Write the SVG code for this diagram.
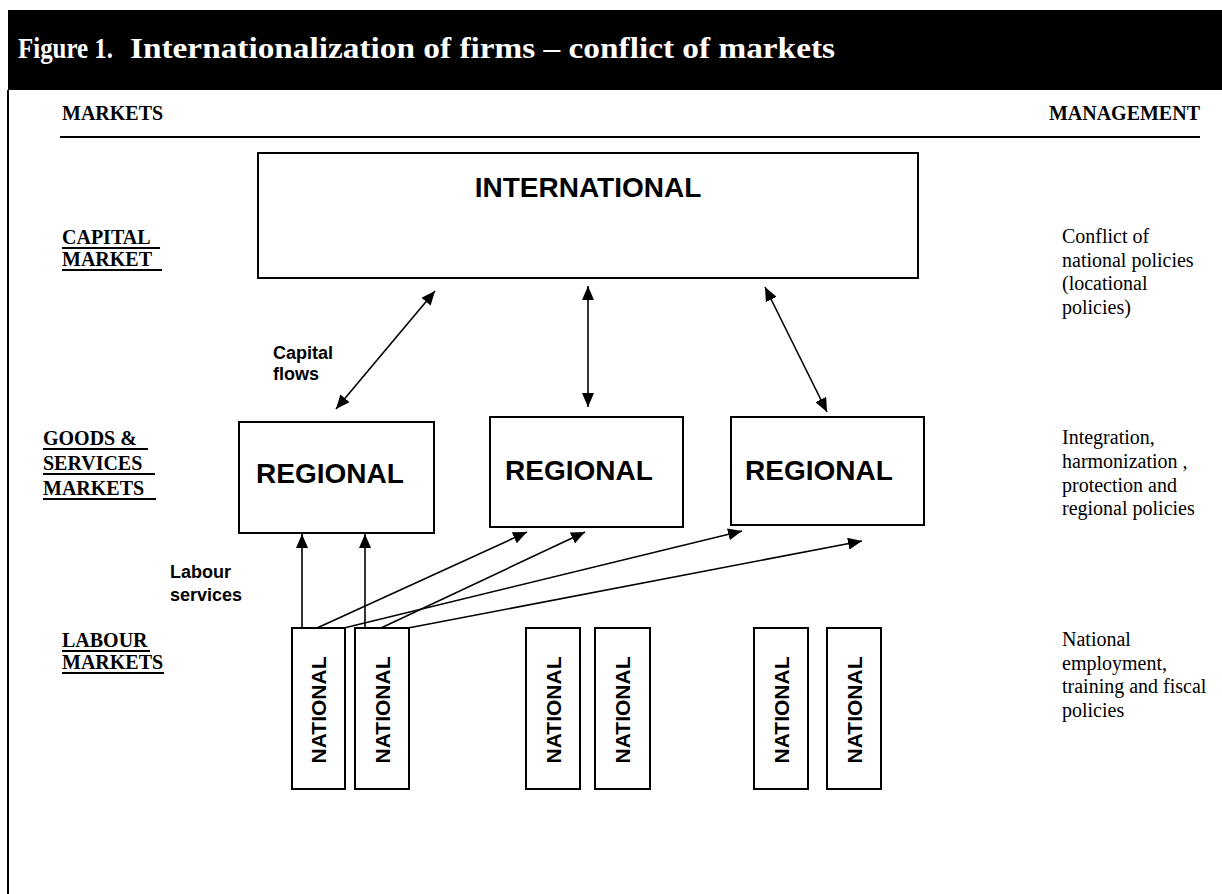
<svg xmlns="http://www.w3.org/2000/svg" width="1222" height="894" viewBox="0 0 1222 894">
<defs>
<marker id="ah" viewBox="0 0 14 12" refX="14" refY="6" markerWidth="14" markerHeight="12" orient="auto-start-reverse" markerUnits="userSpaceOnUse">
<path d="M0,0 L14,6 L0,12 z" fill="#000"/>
</marker>
<style>
.box{fill:#fff;stroke:#000;stroke-width:2}
.ser{font-family:"Liberation Serif","Times New Roman",serif}
.hdr{font-family:"Liberation Serif","Times New Roman",serif;font-weight:bold;font-size:20px;fill:#000}
.pol{font-family:"Liberation Serif","Times New Roman",serif;font-size:20px;fill:#000}
.big{font-family:"Liberation Sans",Arial,sans-serif;font-weight:bold;font-size:28px;fill:#000}
.nat{font-family:"Liberation Sans",Arial,sans-serif;font-weight:bold;font-size:21px;fill:#000}
.lbl{font-family:"Liberation Sans",Arial,sans-serif;font-weight:bold;font-size:18px;fill:#000}
.ul{stroke:#000;stroke-width:2}
.con line{stroke:#000;stroke-width:1.6;fill:none}
</style>
</defs>
<rect width="1222" height="894" fill="#fff"/>
<!-- header band -->
<rect x="8" y="10" width="1214" height="80" fill="#000"/>
<text class="ser" x="18" y="58" font-size="29" font-weight="bold" fill="#fff" textLength="95" lengthAdjust="spacingAndGlyphs">Figure 1.</text>
<text class="ser" x="130" y="58" font-size="29" font-weight="bold" fill="#fff" textLength="705" lengthAdjust="spacingAndGlyphs">Internationalization of firms – conflict of markets</text>
<line x1="8" y1="90" x2="8" y2="894" stroke="#000" stroke-width="2"/>
<text class="hdr" x="62" y="120">MARKETS</text>
<text class="hdr" x="1200" y="120" text-anchor="end">MANAGEMENT</text>
<line x1="60" y1="137" x2="1200" y2="137" stroke="#000" stroke-width="2"/>

<!-- row labels -->
<g id="lbl-capital">
<text class="hdr" x="62" y="244">CAPITAL</text>
<text class="hdr" x="62" y="266">MARKET</text>
<line class="ul" x1="62" y1="248" x2="160" y2="248"/>
<line class="ul" x1="62" y1="270" x2="162" y2="270"/>
</g>
<g id="lbl-goods">
<text class="hdr" x="43" y="445">GOODS &amp;</text>
<text class="hdr" x="43" y="470">SERVICES</text>
<text class="hdr" x="43" y="495">MARKETS</text>
<line class="ul" x1="43" y1="449" x2="148" y2="449"/>
<line class="ul" x1="43" y1="474" x2="155" y2="474"/>
<line class="ul" x1="43" y1="499" x2="156" y2="499"/>
</g>
<g id="lbl-labour">
<text class="hdr" x="62" y="647">LABOUR</text>
<text class="hdr" x="62" y="669">MARKETS</text>
<line class="ul" x1="62" y1="651" x2="150" y2="651"/>
<line class="ul" x1="62" y1="673" x2="164" y2="673"/>
</g>

<!-- management texts -->
<g id="mgmt-capital">
<text class="pol" x="1062" y="243">Conflict of</text>
<text class="pol" x="1062" y="266.5">national policies</text>
<text class="pol" x="1062" y="290">(locational</text>
<text class="pol" x="1062" y="313.5">policies)</text>
</g>
<g id="mgmt-goods">
<text class="pol" x="1062" y="444">Integration,</text>
<text class="pol" x="1062" y="468">harmonization ,</text>
<text class="pol" x="1062" y="491.5">protection and</text>
<text class="pol" x="1062" y="515">regional policies</text>
</g>
<g id="mgmt-labour">
<text class="pol" x="1062" y="646">National</text>
<text class="pol" x="1062" y="669.5">employment,</text>
<text class="pol" x="1062" y="693">training and fiscal</text>
<text class="pol" x="1062" y="716.5">policies</text>
</g>

<!-- nodes -->
<g id="international">
<rect class="box" x="258" y="153" width="660" height="125"/>
<text class="big" x="588" y="197" text-anchor="middle" font-size="26">INTERNATIONAL</text>
</g>
<g id="regional-1">
<rect class="box" x="239" y="422" width="195" height="111"/>
<text class="big" x="256" y="483">REGIONAL</text>
</g>
<g id="regional-2">
<rect class="box" x="490" y="417" width="193" height="110"/>
<text class="big" x="505" y="480">REGIONAL</text>
</g>
<g id="regional-3">
<rect class="box" x="731" y="417" width="193" height="108"/>
<text class="big" x="745" y="480">REGIONAL</text>
</g>
<g id="national-1">
<rect class="box" x="292" y="628" width="53" height="161"/>
<text class="nat" transform="translate(326,710) rotate(-90)" text-anchor="middle">NATIONAL</text>
</g>
<g id="national-2">
<rect class="box" x="355" y="628" width="54" height="161"/>
<text class="nat" transform="translate(389.5,710) rotate(-90)" text-anchor="middle">NATIONAL</text>
</g>
<g id="national-3">
<rect class="box" x="526" y="628" width="54" height="161"/>
<text class="nat" transform="translate(560.5,710) rotate(-90)" text-anchor="middle">NATIONAL</text>
</g>
<g id="national-4">
<rect class="box" x="595" y="628" width="55" height="161"/>
<text class="nat" transform="translate(630,710) rotate(-90)" text-anchor="middle">NATIONAL</text>
</g>
<g id="national-5">
<rect class="box" x="754" y="628" width="54" height="161"/>
<text class="nat" transform="translate(788.5,710) rotate(-90)" text-anchor="middle">NATIONAL</text>
</g>
<g id="national-6">
<rect class="box" x="827" y="628" width="54" height="161"/>
<text class="nat" transform="translate(861.5,710) rotate(-90)" text-anchor="middle">NATIONAL</text>
</g>

<!-- connectors -->
<g id="connectors" class="con">
<line x1="336" y1="409" x2="435" y2="291" marker-start="url(#ah)" marker-end="url(#ah)"/>
<line x1="588" y1="407" x2="588" y2="286" marker-start="url(#ah)" marker-end="url(#ah)"/>
<line x1="827" y1="412" x2="765" y2="287" marker-start="url(#ah)" marker-end="url(#ah)"/>
<line x1="302" y1="628" x2="302" y2="534" marker-end="url(#ah)"/>
<line x1="365" y1="628" x2="365" y2="534" marker-end="url(#ah)"/>
<line x1="317" y1="628" x2="527" y2="532" marker-end="url(#ah)"/>
<line x1="381" y1="628" x2="585" y2="532" marker-end="url(#ah)"/>
<line x1="344" y1="628" x2="742" y2="531" marker-end="url(#ah)"/>
<line x1="408" y1="628" x2="862" y2="541" marker-end="url(#ah)"/>
</g>
<g id="edge-labels">
<text class="lbl" x="273" y="359">Capital</text>
<text class="lbl" x="273" y="380">flows</text>
<text class="lbl" x="170" y="578">Labour</text>
<text class="lbl" x="170" y="601">services</text>
</g>
</svg>
